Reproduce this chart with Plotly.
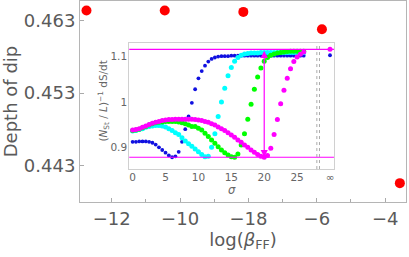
import plotly.graph_objects as go

# ---- main data ----
log_beta = [-12.74, -10.45, -8.15, -5.85, -3.57]
dip_depth = [0.4644, 0.4644, 0.4642, 0.4618, 0.4406]
main_tickvals = [-12, -10, -8, -6, -4]
main_ticktext = ["\u221212", "\u221210", "\u221218", "\u22126", "\u22124"]
main_yticks = [0.443, 0.453, 0.463]
main_yticktext = ["0.443", "0.453", "0.463"]

# ---- inset data ----
sigma = [i * 0.5 for i in range(53)]
blue_vals = [0.912, 0.912, 0.913, 0.913, 0.913, 0.912, 0.910, 0.906, 0.900, 0.894,
             0.888, 0.882, 0.878, 0.880, 0.890, 0.912, 0.940, 0.968, 0.998, 1.028,
             1.052, 1.068, 1.080, 1.089, 1.095, 1.098, 1.100, 1.101, 1.101, 1.101,
             1.102, 1.102, 1.102, 1.102, 1.102, 1.102, 1.102, 1.102, 1.102, 1.102,
             1.102, 1.102, 1.102, 1.102, 1.102, 1.102, 1.102, 1.102, 1.102, 1.102,
             1.102, 1.102, 1.102]
cyan_vals = [0.936, 0.937, 0.939, 0.941, 0.944, 0.946, 0.947, 0.948, 0.948, 0.947,
             0.945, 0.941, 0.937, 0.932, 0.928, 0.921, 0.914, 0.908, 0.902, 0.896,
             0.890, 0.884, 0.879, 0.880, 0.900, 0.930, 0.968, 1.000, 1.030, 1.058,
             1.076, 1.090, 1.098, 1.103, 1.106, 1.107, 1.108, 1.108, 1.108, 1.109,
             1.109, 1.109, 1.109, 1.109, 1.109, 1.109, 1.109, 1.109, 1.109, 1.109,
             1.109, 1.109, 1.109]
green_vals = [0.937, 0.938, 0.940, 0.943, 0.946, 0.949, 0.952, 0.954, 0.955, 0.956,
              0.957, 0.957, 0.957, 0.957, 0.956, 0.954, 0.952, 0.949, 0.946, 0.946,
              0.942, 0.938, 0.931, 0.924, 0.916, 0.909, 0.901, 0.894, 0.888, 0.883,
              0.879, 0.878, 0.885, 0.905, 0.930, 0.962, 0.995, 1.028, 1.055, 1.075,
              1.090, 1.098, 1.103, 1.106, 1.108, 1.109, 1.110, 1.111, 1.112, 1.112,
              1.112, 1.112, 1.112]
magenta_vals = [0.938, 0.939, 0.941, 0.944, 0.947, 0.950, 0.953, 0.955, 0.957, 0.959,
                0.960, 0.961, 0.961, 0.962, 0.962, 0.962, 0.962, 0.962, 0.962, 0.961,
                0.960, 0.959, 0.957, 0.955, 0.952, 0.949, 0.945, 0.941, 0.937, 0.932,
                0.927, 0.922, 0.916, 0.911, 0.905, 0.900, 0.894, 0.889, 0.884, 0.880,
                0.878, 0.882, 0.898, 0.928, 0.961, 0.996, 1.026, 1.052, 1.073, 1.089,
                1.099, 1.105, 1.110]
inf_sigma = 30
blue_inf = 1.103
magenta_inf = 1.116
top_level = 1.116
bottom_level = 0.878
arrow_sigma = 20
break_lines = [28.0, 28.4]
inset_tickvals = [0, 5, 10, 15, 20, 25, 30]
inset_ticktext = ["0", "5", "10", "15", "20", "25", "\u221e"]
inset_yticks = [0.9, 1.0, 1.1]
inset_yticktext = ["0.9", "1", "1.1"]

GRAY = "#5a5a5a"
LGRAY = "#666666"
FONT = "DejaVu Sans, sans-serif"

fig = go.Figure()

fig.add_trace(go.Scatter(x=log_beta, y=dip_depth, mode="markers",
                         marker=dict(color="#ff0000", size=10),
                         xaxis="x", yaxis="y", showlegend=False, cliponaxis=False))

series = [(blue_vals, "#1010e0", 3.8), (cyan_vals, "#00ffff", 5),
          (green_vals, "#00ff00", 5), (magenta_vals, "#ff00ff", 5)]
for vals, col, sz in series:
    fig.add_trace(go.Scatter(x=sigma, y=vals, mode="markers",
                             marker=dict(color=col, size=sz),
                             xaxis="x2", yaxis="y2", showlegend=False))
fig.add_trace(go.Scatter(x=[inf_sigma], y=[magenta_inf], mode="markers",
                         marker=dict(color="#ff00ff", size=5),
                         xaxis="x2", yaxis="y2", showlegend=False))
fig.add_trace(go.Scatter(x=[inf_sigma], y=[blue_inf], mode="markers",
                         marker=dict(color="#1010e0", size=3.8),
                         xaxis="x2", yaxis="y2", showlegend=False))

shapes = []
for lvl in (top_level, bottom_level):
    shapes.append(dict(type="line", xref="x2 domain", yref="y2", x0=0, x1=1,
                       y0=lvl, y1=lvl, line=dict(color="#ff00ff", width=1.2)))
for bx in break_lines:
    shapes.append(dict(type="line", xref="x2", yref="y2 domain", x0=bx, x1=bx,
                       y0=0, y1=1, line=dict(color="#aaaaaa", width=1, dash="dot")))

fig.update_layout(
    width=409, height=257,
    margin=dict(l=80, r=3, t=1, b=55, autoexpand=False),
    paper_bgcolor="white", plot_bgcolor="white",
    font=dict(family=FONT, color=GRAY),
    shapes=shapes,
    xaxis=dict(range=[-12.93, -3.39], tickvals=main_tickvals, ticktext=main_ticktext,
               ticks="inside", ticklen=4, tickcolor="#aaaaaa",
               minor=dict(tickvals=[-13, -11, -9, -7, -5], ticks="inside", ticklen=3,
                          tickcolor="#aaaaaa"),
               showline=True, linecolor="#b5b5b5", mirror=True, showgrid=False,
               zeroline=False, tickfont=dict(size=18, color=GRAY),
               title=dict(text="log(<i>\u03b2</i><sub>FF</sub>)", font=dict(size=18, color=GRAY),
                          standoff=3)),
    yaxis=dict(range=[0.438, 0.4657], tickvals=main_yticks, ticktext=main_yticktext,
               ticks="inside", ticklen=4, tickcolor="#aaaaaa",
               showline=True, linecolor="#b5b5b5", mirror=True, showgrid=False,
               zeroline=False, tickfont=dict(size=18, color=GRAY),
               title=dict(text="Depth of dip", font=dict(size=18, color=GRAY), standoff=4)),
    xaxis2=dict(domain=[0.151, 0.779], anchor="y2", range=[-0.52, 30.6],
                tickvals=inset_tickvals, ticktext=inset_ticktext,
                ticks="", ticklabelstandoff=-2,
                showline=True, linecolor="#d0d0d0", mirror=True, showgrid=False,
                zeroline=False, tickfont=dict(size=10.5, color=LGRAY),
                title=dict(text="<i>\u03c3</i>", font=dict(size=11.5, color=LGRAY),
                           standoff=0)),
    yaxis2=dict(domain=[0.164, 0.791], anchor="x2", range=[0.852, 1.130],
                tickvals=inset_yticks, ticktext=inset_yticktext,
                ticks="", ticklabelstandoff=-1,
                showline=True, linecolor="#d0d0d0", mirror=True, showgrid=False,
                zeroline=False, tickfont=dict(size=10.5, color=LGRAY)),
)

fig.add_annotation(text="(<i>N</i><sub>St</sub> / <i>L</i>)<sup>\u22121</sup> dS/dt",
                   xref="paper", yref="paper", x=0.074, y=0.505, textangle=-90,
                   xanchor="center", yanchor="middle", showarrow=False,
                   font=dict(size=10.5, color=LGRAY))

fig.add_annotation(x=arrow_sigma, y=bottom_level, ax=arrow_sigma, ay=top_level,
                   xref="x2", yref="y2", axref="x2", ayref="y2", text="",
                   showarrow=True, arrowhead=2, startarrowhead=2, arrowside="end+start",
                   arrowsize=1.2, arrowwidth=1.2, arrowcolor="#ff00ff")

fig.write_html("out.html", config={"displayModeBar": False},
               post_script="document.body.style.margin='0';")
